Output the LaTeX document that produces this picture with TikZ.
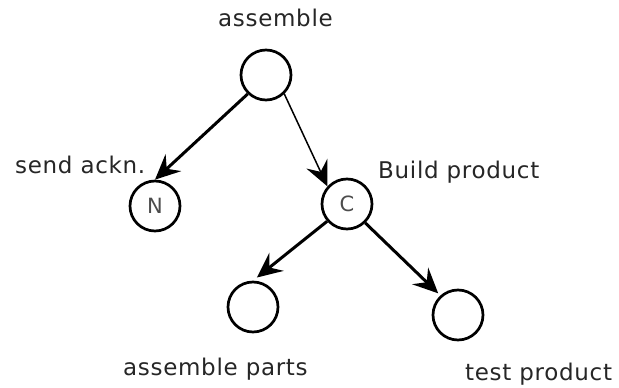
\documentclass[tikz,border=0pt]{standalone}
\usepackage{fontspec}
\usepackage{tikz}
\usetikzlibrary{arrows.meta,positioning}
\newfontfamily\lblfont{DejaVu Sans}[LetterSpace=3]

\begin{document}
\begin{tikzpicture}[
    x=1pt, y=-1pt,
    tip/.style={-{Stealth[length=25pt,width=23pt,inset=9pt]}},
    state/.style={
        circle,
        draw=black,
        line width=2.7pt,
        minimum size=50pt,
        inner sep=0pt,
        font=\lblfont\fontsize{21}{24}\selectfont,
        text=black!70
    },
    lbl/.style={
        anchor=base west,
        inner sep=0pt,
        font=\lblfont\fontsize{23}{27}\selectfont,
        text=black!85
    },
    arr/.style={tip, line width=3pt},
    thinarr/.style={tip, line width=1.5pt}
]
\useasboundingbox (0,0) rectangle (619,388);

% tree nodes
\node[state] (root) at (266,75) {};
\node[state] (ack) at (155,206) {N};
\node[state] (build) at (347,204) {C};
\node[state] (parts) at (253,307) {};
\node[state] (test) at (458,315) {};

% labels
\node[lbl] (rootlbl) at (218,27) {assemble};
\node[lbl] (acklbl) at (15,173) {send ackn.};
\node[lbl] (buildlbl) at (378,178) {Build product};
\node[lbl] (partslbl) at (123,375) {assemble parts};
\node[lbl] (testlbl) at (465,380) {test product};

% edges
\draw[arr] (root.226) -- (ack.north);
\draw[thinarr] (root.314) -- (build.138);
\draw[arr, shorten >=5pt] (build.221) -- (parts.north);
\draw[arr, shorten >=3pt] (build.314) -- (test.132);

\end{tikzpicture}
\end{document}
